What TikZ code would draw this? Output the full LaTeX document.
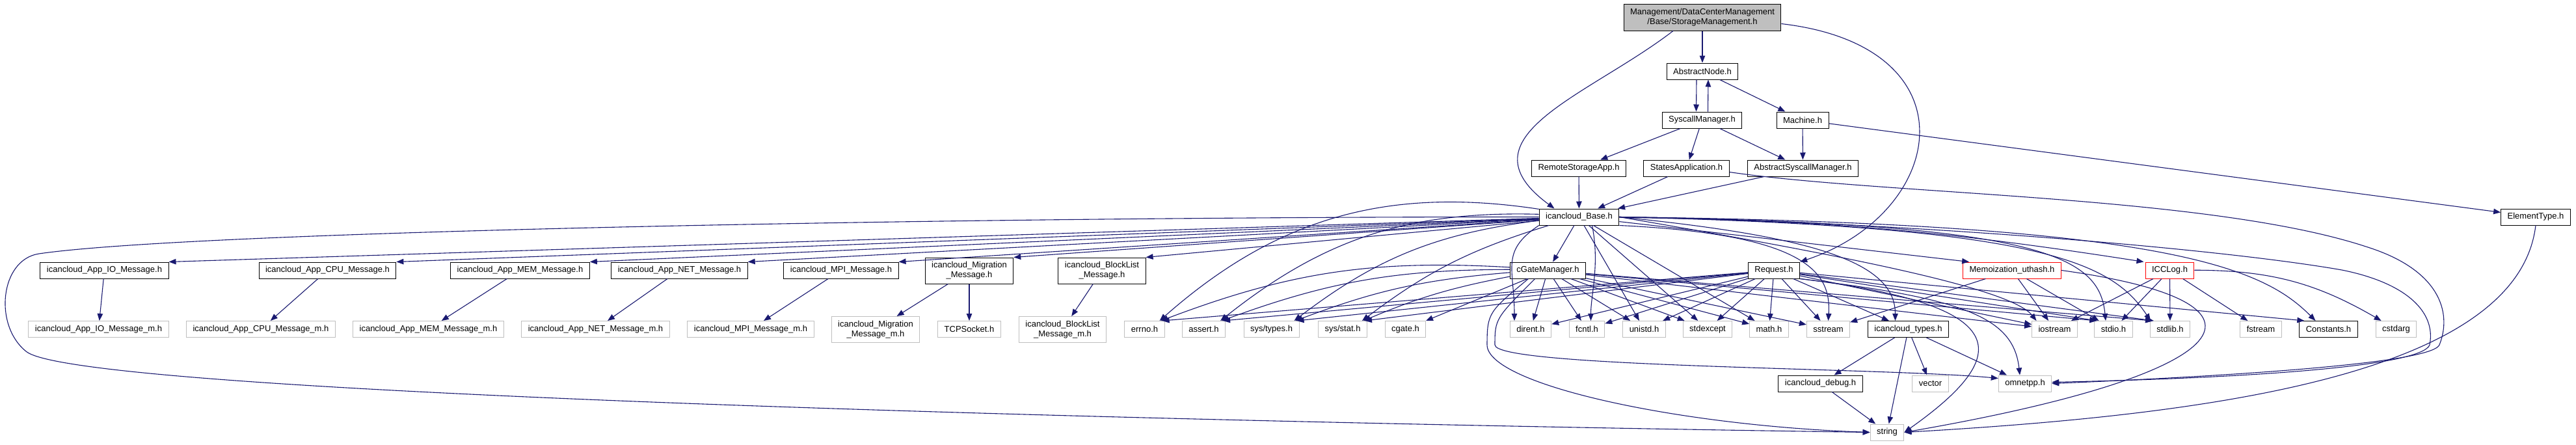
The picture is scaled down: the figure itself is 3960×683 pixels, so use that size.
\documentclass[tikz,border=0pt]{standalone}
\usepackage{fontspec}
\setmainfont{Liberation Sans}
\usetikzlibrary{positioning, arrows.meta}

\definecolor{linkblue}{RGB}{25,25,112}
\definecolor{grey75}{RGB}{191,191,191}

\begin{document}
\begin{tikzpicture}[
    x=1pt, y=1pt,
    font=\fontsize{13}{15}\selectfont,
    header/.style={rectangle, draw=black, line width=1pt, fill=white, inner xsep=10pt, inner ysep=0pt, minimum height=25pt, align=center},
    system/.style={header, draw=grey75},
    partial/.style={header, draw=red},
    focus/.style={header, fill=grey75, minimum height=41pt},
    twoline/.style={minimum height=40pt},
    dep/.style={-{Triangle[length=11pt, width=8.5pt]}, draw=linkblue, line width=1.1pt}
]
    \useasboundingbox (0,0) rectangle (3960,-683);

    \node[focus] (root) at (2617,-26.5) {Management/DataCenterManagement\\/Base/StorageManagement.h};
    \node[header] (anode) at (2617,-109.5) {AbstractNode.h};
    \node[header] (syscall) at (2616.5,-184.5) {SyscallManager.h};
    \node[header] (machine) at (2771,-184.5) {Machine.h};
    \node[header] (remote) at (2427,-258.5) {RemoteStorageApp.h};
    \node[header] (states) at (2592.5,-258.5) {StatesApplication.h};
    \node[header] (asyscall) at (2771.5,-258.5) {AbstractSyscallManager.h};
    \node[header] (base) at (2427.5,-333.5) {icancloud\_Base.h};
    \node[header] (etype) at (3898,-333.5) {ElementType.h};

    \node[header] (io) at (160.5,-415.5) {icancloud\_App\_IO\_Message.h};
    \node[header] (cpu) at (503.5,-415.5) {icancloud\_App\_CPU\_Message.h};
    \node[header] (mem) at (799.5,-415.5) {icancloud\_App\_MEM\_Message.h};
    \node[header] (net) at (1044.5,-415.5) {icancloud\_App\_NET\_Message.h};
    \node[header] (mpi) at (1293,-415.5) {icancloud\_MPI\_Message.h};
    \node[header, twoline] (migr) at (1490,-416) {icancloud\_Migration\\\_Message.h};
    \node[header, twoline] (block) at (1694,-416) {icancloud\_BlockList\\\_Message.h};
    \node[header] (gatemgr) at (2379.5,-415.5) {cGateManager.h};
    \node[header] (request) at (2727,-415.5) {Request.h};
    \node[partial] (memo) at (3093,-415.5) {Memoization\_uthash.h};
    \node[partial] (icclog) at (3335.5,-415.5) {ICCLog.h};

    \node[system] (iom) at (151.5,-506) {icancloud\_App\_IO\_Message\_m.h};
    \node[system] (cpum) at (401,-506) {icancloud\_App\_CPU\_Message\_m.h};
    \node[system] (memm) at (658.5,-506) {icancloud\_App\_MEM\_Message\_m.h};
    \node[system] (netm) at (915.5,-506) {icancloud\_App\_NET\_Message\_m.h};
    \node[system] (mpim) at (1154,-506) {icancloud\_MPI\_Message\_m.h};
    \node[system, twoline] (migrm) at (1346,-506.5) {icancloud\_Migration\\\_Message\_m.h};
    \node[system] (tcp) at (1490,-506) {TCPSocket.h};
    \node[system, twoline] (blockm) at (1633.5,-506.5) {icancloud\_BlockList\\\_Message\_m.h};
    \node[system] (errno) at (1759.5,-506) {errno.h};
    \node[system] (assert) at (1850.5,-506) {assert.h};
    \node[system] (systypes) at (1954.5,-506) {sys/types.h};
    \node[system] (sysstat) at (2064,-506) {sys/stat.h};
    \node[system] (cgate) at (2160.5,-506) {cgate.h};
    \node[system] (dirent) at (2353,-506) {dirent.h};
    \node[system] (fcntl) at (2439.5,-506) {fcntl.h};
    \node[system] (unistd) at (2527.5,-506) {unistd.h};
    \node[system] (stdexcept) at (2625,-506) {stdexcept};
    \node[system] (math) at (2719.5,-506) {math.h};
    \node[system] (sstream) at (2810.5,-506) {sstream};
    \node[header] (types) at (2933.5,-506) {icancloud\_types.h};
    \node[system] (iostream) at (3158.5,-506) {iostream};
    \node[system] (stdio) at (3249,-506) {stdio.h};
    \node[system] (stdlib) at (3336,-506) {stdlib.h};
    \node[system] (fstream) at (3475.5,-506) {fstream};
    \node[header] (constants) at (3579.5,-506) {Constants.h};
    \node[system] (cstdarg) at (3683.5,-506) {cstdarg};

    \node[header] (debug) at (2798.5,-589.5) {icancloud\_debug.h};
    \node[system] (vector) at (2967.5,-589.5) {vector};
    \node[system] (omnetpp) at (3113,-589.5) {omnetpp.h};
    \node[system] (string) at (2901,-664.5) {string};

    \draw[dep] (root) -- (anode);
    \draw[dep] ([xshift=-45pt]root.south) .. controls +(-130,-100) and +(-150,110) .. ([xshift=-38pt]base.north);
    \draw[dep] ([yshift=-10pt]root.east) .. controls +(300,-35) and +(225,75) .. (request.north east);
    \draw[dep] ([xshift=-9pt]anode.south) -- ([xshift=-9pt]syscall.north);
    \draw[dep] ([xshift=9pt]syscall.north) -- ([xshift=9pt]anode.south);
    \draw[dep] (anode) -- (machine);
    \foreach \dst in {remote, states, asyscall}
        \draw[dep] (syscall) -- (\dst);
    \draw[dep] (machine) -- (asyscall);
    \draw[dep] (machine) -- (etype);
    \foreach \src in {remote, states, asyscall}
        \draw[dep] (\src) -- (base);
    \draw[dep] ([yshift=-6pt]states.east) .. controls (2900,-300) and (3400,-300) .. (3640,-380)
        .. controls (3750,-415) and (3770,-480) .. (3750,-530)
        .. controls (3740,-555) and (3500,-575) .. (omnetpp.east);

    \foreach \dst in {io, cpu, mem, net, mpi, migr, block}
        \draw[dep] (base) -- (\dst.north east);
    \foreach \src/\dst in {io/iom, cpu/cpum, mem/memm, net/netm, mpi/mpim, migr/migrm, migr/tcp, block/blockm}
        \draw[dep] (\src) -- (\dst);
    \draw[dep] (base.west) .. controls (1500,-333) and (300,-355) .. (60,-390)
        .. controls (0,-399) and (-10,-500) .. (40,-540)
        .. controls (120,-610) and (2000,-652) .. (string.west);

    \foreach \dst/\b in {errno/25, assert/20, systypes/15, sysstat/10}
        \draw[dep] (base) to[bend right=\b] ([xshift=-8pt]\dst.north east);
    \draw[dep] (base) -- (gatemgr);
    \draw[dep] (base.south west) .. controls +(-60,-40) and +(0,80) .. ([xshift=-25pt]dirent.north);
    \draw[dep] ([xshift=20pt]base.south) .. controls +(12,-60) and +(0,40) .. ([xshift=6pt]fcntl.north);
    \foreach \dst in {unistd, stdexcept, math}
        \draw[dep] (base) -- (\dst);
    \draw[dep] (base.south east) .. controls (2780,-360) and (2815,-420) .. (sstream.north);
    \draw[dep] (base.east) .. controls +(300,-30) and +(0,90) .. ([xshift=-20pt]types.north);
    \draw[dep] (base) -- ([xshift=10pt]memo.north west);
    \draw[dep] (base) to[bend left=4] ([xshift=-40pt]icclog.north);
    \draw[dep] (base.east) .. controls +(350,-60) and +(-40,50) .. ([xshift=-28pt]iostream.north);
    \draw[dep] (base.east) .. controls +(650,-10) and +(-10,100) .. ([xshift=-12pt]stdio.north);
    \draw[dep] (base.east) .. controls +(650,-15) and +(-60,90) .. ([xshift=-30pt]stdlib.north);
    \draw[dep] (base.east) .. controls +(850,-10) and +(-80,80) .. ([xshift=-20pt]constants.north);
    \draw[dep] (base.east) .. controls (2900,-340) and (3400,-380) .. (3600,-415)
        .. controls (3700,-435) and (3745,-480) .. (3735,-530)
        .. controls (3725,-560) and (3500,-580) .. ([yshift=2pt]omnetpp.east);

    \foreach \dst/\b in {errno/12, assert/10, systypes/8, sysstat/6}
        \draw[dep] (gatemgr) to[bend right=\b] ([xshift=-6pt]\dst.north east);
    \foreach \dst in {cgate, dirent, fcntl, unistd, stdexcept, math, sstream, iostream}
        \draw[dep] (gatemgr) -- (\dst);
    \draw[dep] (gatemgr) -- ([xshift=4pt]stdio.north west);
    \draw[dep] (gatemgr) -- ([xshift=4pt]stdlib.north west);
    \draw[dep] ([xshift=-30pt]gatemgr.south) .. controls +(-60,-50) and +(0,50) .. (2286,-530)
        .. controls (2286,-590) and (2574,-654) .. (string.west);
    \draw[dep] ([xshift=-20pt]gatemgr.south) .. controls +(-60,-60) and +(0,40) .. (2298,-530)
        .. controls (2298,-565) and (2900,-565) .. ([yshift=8pt]omnetpp.west);

    \foreach \dst in {errno, assert, systypes, sysstat}
        \draw[dep] (request) -- ([xshift=-4pt]\dst.north east);
    \foreach \dst in {dirent, fcntl, unistd, stdexcept, math, sstream, types, iostream}
        \draw[dep] (request) -- (\dst);
    \draw[dep] (request) -- ([xshift=4pt]stdio.north west);
    \draw[dep] (request) -- ([xshift=6pt]stdlib.north west);
    \draw[dep] (request) -- ([xshift=8pt]constants.north west);
    \draw[dep] (request.south east) .. controls +(330,-40) and +(170,120) .. (string.east);
    \draw[dep] (request.south east) .. controls +(250,-30) and +(-10,90) .. ([xshift=-8pt]omnetpp.north);

    \foreach \dst in {debug, vector, string, omnetpp}
        \draw[dep] (types) -- (\dst);
    \draw[dep] (debug) -- (string);

    \foreach \dst in {sstream, iostream, stdio}
        \draw[dep] (memo) -- (\dst);
    \draw[dep] (memo.east) .. controls +(360,-50) and +(520,90) .. (string.east);
    \foreach \dst in {iostream, stdio, stdlib, fstream}
        \draw[dep] (icclog) -- (\dst);
    \draw[dep] (icclog) to[bend left=15] (cstdarg);

    \draw[dep] (etype.south) .. controls +(-28,-234) and +(450,26) .. (string.east);
\end{tikzpicture}
\end{document}
